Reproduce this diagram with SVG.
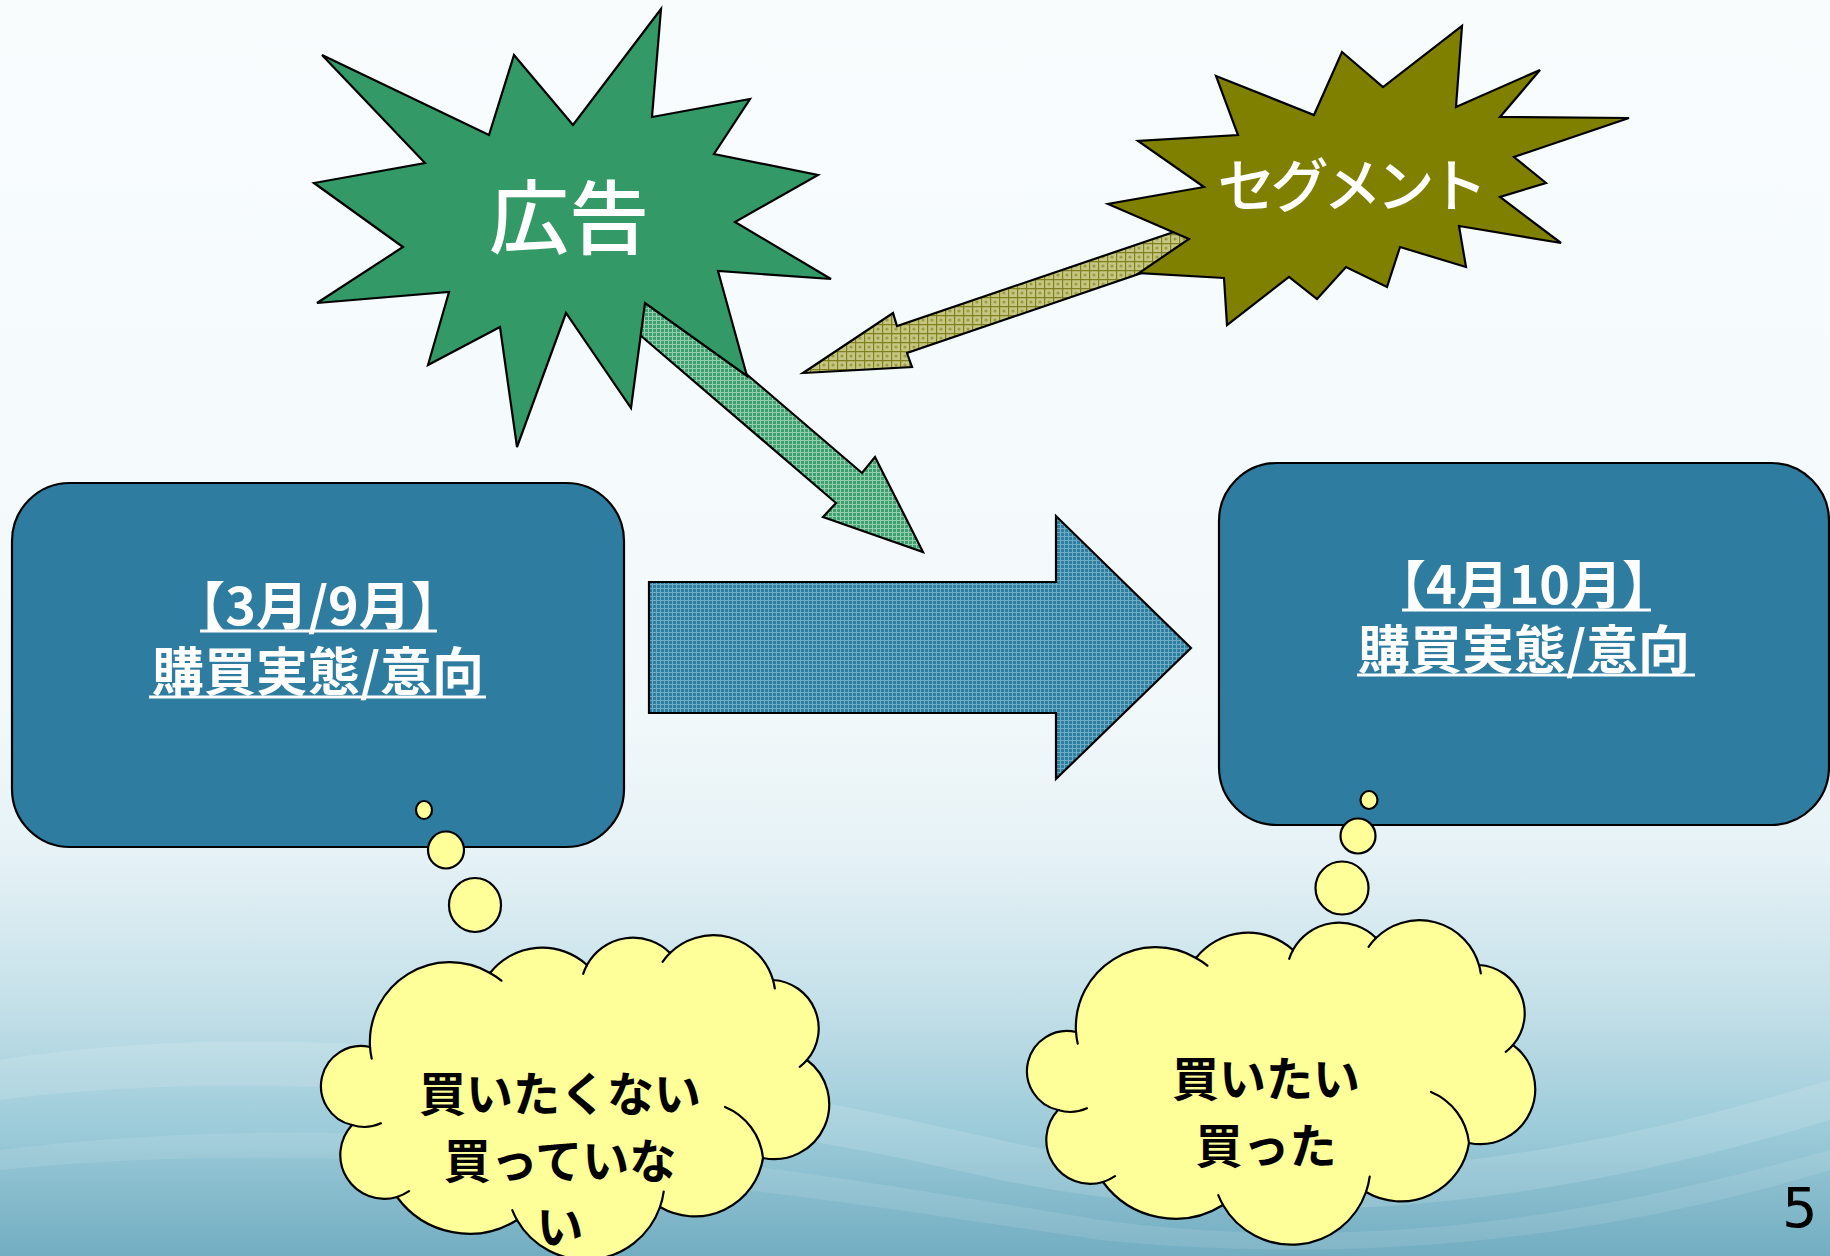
<svg xmlns="http://www.w3.org/2000/svg" xmlns:xlink="http://www.w3.org/1999/xlink" width="1830" height="1256" viewBox="0 0 1830 1256">
  <style>
    .outline { stroke: #000; stroke-width: 2.2; stroke-linejoin: miter; }
    .jp { font-family: "Noto Sans CJK JP", "Noto Sans CJK SC", sans-serif; }
    .starText { fill: #fff; font-weight: 500; text-anchor: middle; }
    .boxText { fill: #fff; font-weight: 700; font-size: 52px; text-anchor: middle; }
    .cloudText { fill: #000; font-weight: 700; font-size: 47px; text-anchor: middle; }
    .ul { stroke: #fff; stroke-width: 3; }
    .bubble { fill: #ffff99; stroke: #000; stroke-width: 2.2; }
    .crease { fill: none; stroke: #000; stroke-width: 2.2; stroke-linecap: round; }
  </style>
  <defs>
    <linearGradient id="bg" x1="0" y1="0" x2="0" y2="1">
      <stop offset="0" stop-color="#f8fcfd"/>
      <stop offset="0.55" stop-color="#f3f9fb"/>
      <stop offset="0.68" stop-color="#e6f2f6"/>
      <stop offset="0.8" stop-color="#c4e0e9"/>
      <stop offset="0.9" stop-color="#9ccbd9"/>
      <stop offset="1" stop-color="#72adc1"/>
    </linearGradient>
    <pattern id="hatchBlue" patternUnits="userSpaceOnUse" width="4" height="4">
      <rect width="4" height="4" fill="#2e7ea2"/>
      <path d="M0 0.5H4M0.5 0V4" stroke="#a6cfe0" stroke-width="1" opacity="0.55"/>
    </pattern>
    <pattern id="hatchGreen" patternUnits="userSpaceOnUse" width="4" height="4">
      <rect width="4" height="4" fill="#3f9f6e"/>
      <path d="M0 0.5H4M0.5 0V4" stroke="#b6e2c9" stroke-width="1" opacity="0.7"/>
    </pattern>
    <pattern id="hatchOlive" patternUnits="userSpaceOnUse" width="9" height="9">
      <rect width="9" height="9" fill="#c6c684"/>
      <path d="M0 0.5H9M0.5 0V9" stroke="#80801c" stroke-width="1.4"/>
      <circle cx="5" cy="5" r="1.6" fill="#9c9c40"/>
    </pattern>
    <g id="cloudShape">
      <path class="outline" fill="#ffff99" d="M370,1047 A80,80 0 0 1 490,973 A66.5,66.5 0 0 1 587,965 A52.4,52.4 0 0 1 670,953 A62,62 0 0 1 773,980 A48.5,48.5 0 0 1 807,1060 A55,55 0 0 1 763,1158 A69,69 0 0 1 660,1207 A79,79 0 0 1 517,1220 A89.5,89.5 0 0 1 397,1197 A44,44 0 0 1 352,1125 A40,40 0 0 1 370,1047 Z"/>
      <path class="crease" d="M371.7,1058.6 A80,80 0 0 1 370,1047 M490,973 A80,80 0 0 1 501.4,980.7 M583.2,973.8 A52.4,52.4 0 0 1 587,965 M662.6,961.8 A62,62 0 0 1 670,953 M773,980 A62,62 0 0 1 774.8,988.4 M807,1060 A48.5,48.5 0 0 1 799.7,1066.9 M725,1107 A62,62 0 0 1 763,1158 M663.7,1191.6 A79,79 0 0 1 660,1207 M517,1220 A79,79 0 0 1 512.3,1210.2 M409,1191.2 A44,44 0 0 1 397,1197 M380.9,1123.3 A40,40 0 0 1 352,1125"/>
    </g>
  </defs>

  <rect id="background" width="1830" height="1256" fill="url(#bg)"/>
  <g id="background-swoosh" fill="#ffffff">
    <path d="M0,1060 C300,1010 700,1070 1000,1140 C1250,1195 1500,1180 1830,1080 L1830,1120 C1500,1220 1250,1230 1000,1180 C700,1110 300,1060 0,1100 Z" opacity="0.13"/>
    <path d="M0,1150 C400,1100 800,1170 1100,1220 C1400,1260 1650,1200 1830,1150 L1830,1170 C1650,1225 1400,1270 1100,1240 C800,1195 400,1130 0,1170 Z" opacity="0.1"/>
  </g>

  <g id="connectors">
    <polygon id="arrow-main" class="outline" fill="url(#hatchBlue)" points="649,582 1056,582 1056,516 1191,648 1056,779 1056,713 649,713"/>
    <polygon id="arrow-ad" class="outline" fill="url(#hatchGreen)" points="640,283 862,473 875,457 923,552 823,517 836,503 612,311"/>
    <polygon id="arrow-segment" class="outline" fill="url(#hatchOlive)" points="803,373 893,313 897,326 1215,218 1225,233 1215,248 907,353 912,367"/>
  </g>

  <g id="node-ad">
    <polygon class="outline" fill="#339966" points="322,55 489,135 514,55 573,125 661,9 652,117 750,99 714,154 818,175 735,222 831,279 718,271 747,376 645,303 631,408 566,313 517,447 500,327 428,365 449,292 317,303 403,247 314,183 425,163"/>
    <text class="jp starText" x="569" y="247" font-size="80">広告</text>
  </g>

  <g id="node-segment">
    <polygon class="outline" fill="#808000" points="1216,76 1314,115 1342,52 1383,87 1462,26 1456,107 1540,70 1500,117 1629,118 1514,157 1546,183 1500,197 1561,243 1459,226 1466,267 1400,247 1387,287 1346,267 1317,299 1289,277 1227,325 1224,278 1139,273 1189,239 1108,204 1204,187 1138,141 1238,135"/>
    <text class="jp starText" x="1350" y="207" font-size="58" letter-spacing="-5">セグメント</text>
  </g>

  <g id="node-before">
    <rect class="outline" fill="#2e7ca0" x="12" y="483" width="612" height="364" rx="58" ry="58"/>
    <text class="jp boxText"><tspan x="318" y="625">【3月/9月】</tspan><tspan x="318" y="691">購買実態/意向</tspan></text>
    <line class="ul" x1="200" y1="631" x2="437" y2="631"/>
    <line class="ul" x1="149" y1="697" x2="486" y2="697"/>
  </g>

  <g id="node-after">
    <rect class="outline" fill="#2e7ca0" x="1219" y="463" width="610" height="362" rx="58" ry="58"/>
    <text class="jp boxText"><tspan x="1524" y="604">【4月10月】</tspan><tspan x="1524" y="669">購買実態/意向</tspan></text>
    <line class="ul" x1="1402" y1="610" x2="1651" y2="610"/>
    <line class="ul" x1="1357" y1="675" x2="1695" y2="675"/>
  </g>

  <g id="thought-before">
    <ellipse class="bubble" cx="424" cy="810" rx="8" ry="9"/>
    <ellipse class="bubble" cx="446" cy="850" rx="18" ry="18.5"/>
    <ellipse class="bubble" cx="475" cy="905" rx="26" ry="27"/>
    <use xlink:href="#cloudShape" href="#cloudShape"/>
    <text class="jp cloudText"><tspan x="560" y="1111">買いたくない</tspan><tspan x="560" y="1178">買っていな</tspan><tspan x="560" y="1244">い</tspan></text>
  </g>

  <g id="thought-after">
    <ellipse class="bubble" cx="1369" cy="800" rx="8.5" ry="9"/>
    <ellipse class="bubble" cx="1358" cy="836" rx="17.5" ry="17.5"/>
    <ellipse class="bubble" cx="1342" cy="888" rx="26.5" ry="26.5"/>
    <use xlink:href="#cloudShape" href="#cloudShape" transform="translate(706,-15)"/>
    <text class="jp cloudText"><tspan x="1266" y="1096">買いたい</tspan><tspan x="1266" y="1163">買った</tspan></text>
  </g>

  <text id="page-number" x="1782" y="1227" font-family="DejaVu Sans, sans-serif" font-size="56" fill="#000">5</text>
</svg>
